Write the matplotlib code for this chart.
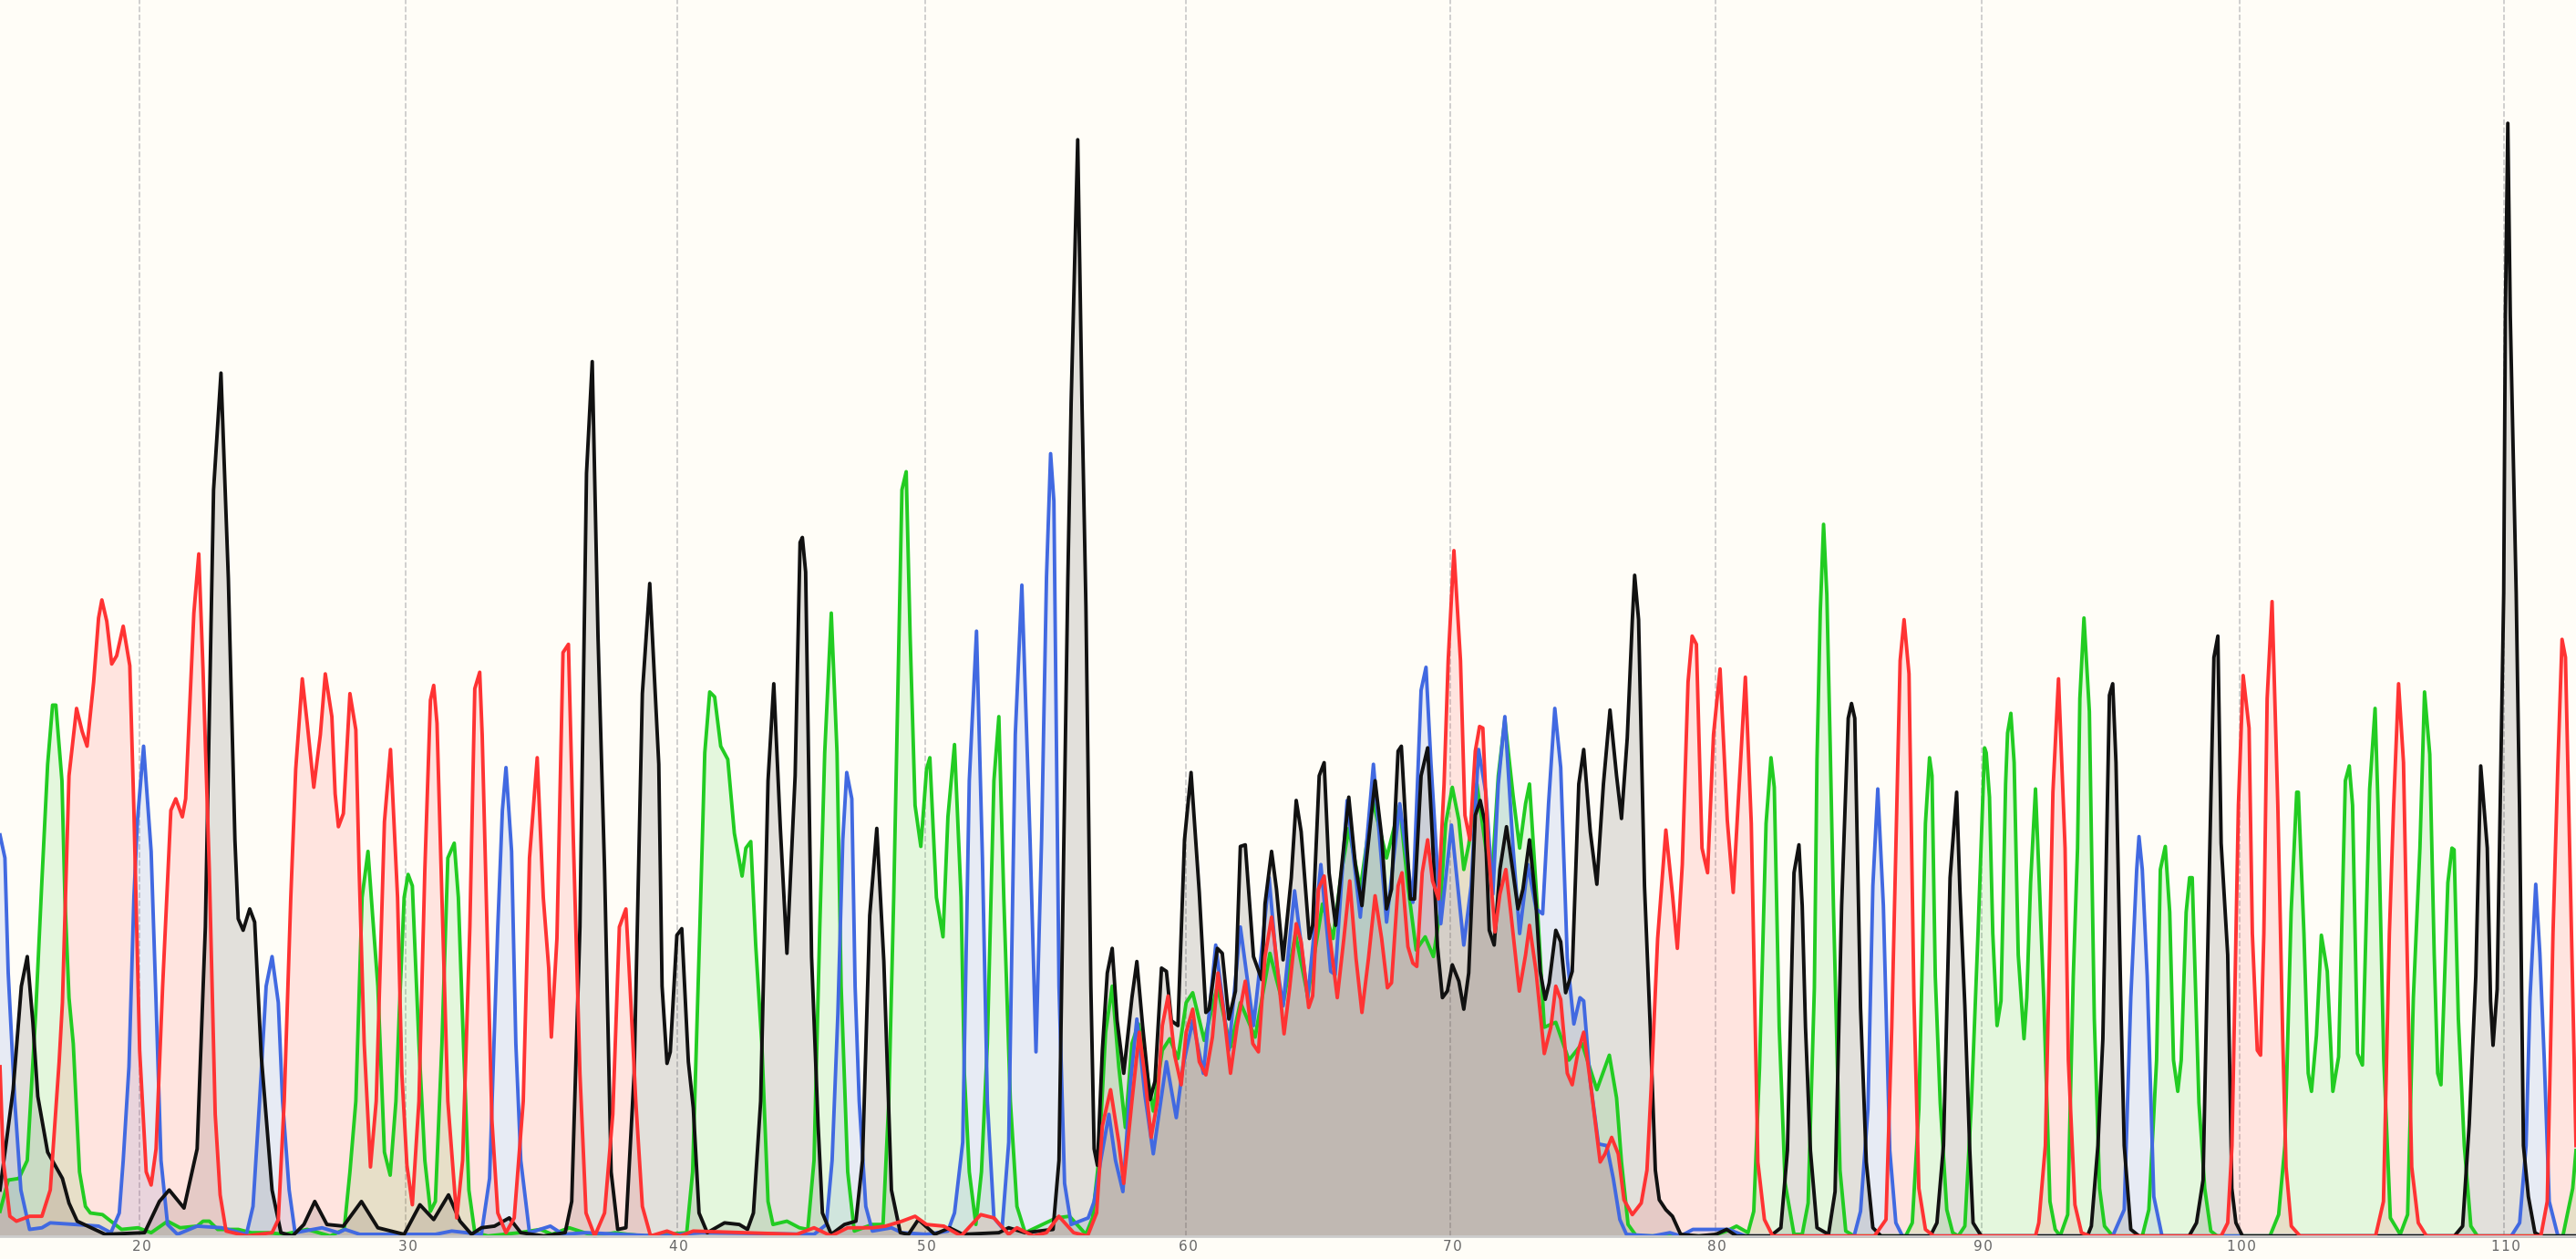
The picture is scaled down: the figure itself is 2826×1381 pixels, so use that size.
import matplotlib
matplotlib.use("Agg")
import matplotlib.pyplot as plt
from matplotlib.transforms import ScaledTranslation

# traces as (position, signal)
black_trace = [(0,28),(8,89),(13,152),(16.6,170),(20,130),(23,85),(29,51),(38,35),(42,20),(47,9),(64,1),(88,2),(97,21),(103,28),(112,17),(120,53),(125,188),(130,454),(134.5,525),(139,400),(143,241),(145,193),(148,186),(152,199),(155,191),(159,110),(165.6,28),(171,2),(178,0),(185,7),(191.6,21),(199,7),(209,6),(220,21),(230,5),(246,1),(255.6,19),(264,10),(273,25),(280,9),(287,1),(293,5),(301,6),(310,11),(317,2),(331,0),(344,2),(348,21),(353,188),(357,464),(360.5,532),(364,365),(368,223),(372,39),(376,4),(381,5),(386,99),(391,330),(395.5,397),(401,287),(403,152),(406,105),(408,112),(412,183),(415,187),(419,106),(422,78),(425.5,14),(430.5,2),(441,8),(450,7),(455,4),(458.6,14),(463,82),(467.5,277),(471,336),(475,248),(479,172),(484,280),(487,422),(488.4,425),(490.4,404),(494,170),(498,67),(500.6,14),(506,1),(514,7),(521,9),(525,46),(529.4,195),(533.7,248),(538,167),(542.6,28),(548,2),(553,1),(559,10),(569,1),(578,5),(586,1),(608,2),(614,5),(624,2),(641,4),(644.6,46),(650,400),(652,507),(656,667),(658.6,507),(661,383),(664,152),(666,53),(668,43),(671,113),(674,160),(677,175),(680,131),(684,99),(689,145),(692,167),(695.5,128),(700,83),(703,94),(707,163),(710,161),(713,131),(717,128),(721,241),(725,282),(730,209),(734,136),(736,138),(741,175),(744,172),(748,132),(752,149),(755,237),(758,238),(763,170),(768,156),(770,202),(774,234),(777,211),(781,168),(786,218),(789,265),(792,246),(797,181),(799,189),(803,280),(806,288),(809,221),(813,189),(817,228),(821,267),(825,226),(829,201),(832,231),(837,277),(841,243),(844,199),(847,211),(851,295),(853,298),(856.5,236),(858.5,205),(861,205),(865,280),(869,297),(872,241),(875,176),(878,145),(881,149),(884,165),(888,155),(891,138),(894,160),(898,256),(901,265),(904,251),(906.5,186),(909.5,177),(913,223),(917,249),(921,221),(924,199),(927,211),(931,241),(935,201),(937.5,161),(940.6,144),(943,154),(947,186),(950,179),(953,148),(957,161),(961,275),(964,296),(968,246),(972,214),(976,275),(980,320),(984,280),(987,254),(990.5,303),(993.6,375),(995,402),(997.4,375),(1001,213),(1004.5,127),(1007.6,40),(1010,22),(1014,16),(1018,12),(1023,1),(1034,0),(1044.5,1),(1051,4),(1057,0),(1077.7,0),(1084,5),(1088,52),(1092,221),(1095,238),(1097,201),(1099,127),(1102,52),(1106,5),(1113,1),(1117,27),(1121,201),(1125,315),(1127,324),(1129,315),(1132.5,139),(1136,45),(1140,5),(1145,0),(1175,0),(1179,8),(1183,55),(1187,218),(1191,270),(1193,210),(1196,140),(1199,52),(1201,8),(1206,0),(1270.6,0),(1273,6),(1277,55),(1280,120),(1284,329),(1286,336),(1288,288),(1291,140),(1293,55),(1297,4),(1302,0),(1332.5,0),(1337,8),(1341,34),(1345,231),(1347.6,352),(1350,365),(1352,239),(1356,171),(1358.5,29),(1361,8),(1365,0),(1494,0),(1499,6),(1503,68),(1507,158),(1510,286),(1514,236),(1516,143),(1517.5,116),(1520,150),(1522.7,314),(1524,391),(1525,560),(1526.5,677),(1528,560),(1531.6,391),(1533.6,262),(1536,55),(1539,24),(1543,2),(1546.6,0),(1568,0)]

red_trace = [(0,103),(2,46),(6,12),(10,9),(18,12),(25.5,12),(30.6,28),(36,106),(38,142),(42,280),(46.6,321),(50,307),(53,298),(57,337),(60,376),(62,387),(65,374),(68,348),(71,353),(75,371),(79,347),(81.5,259),(85,113),(89,39),(92,31),(95,53),(99,152),(104,259),(107,266),(111,255),(113,266),(118,379),(121,415),(123.6,344),(127.4,223),(131,74),(134,25),(137.6,3),(150,0),(165.6,2),(169.4,10),(173,82),(177,206),(180,284),(184,339),(187,312),(191,273),(195,305),(198,342),(202,316),(204,269),(206,249),(209,257),(213,330),(216.6,308),(218.6,223),(221.7,117),(225.5,42),(229,82),(234,252),(237.7,296),(242,206),(244.6,99),(247.7,43),(251,19),(255,82),(258.6,223),(262,326),(264,335),(266,312),(269,206),(272.6,82),(278,11),(281.6,46),(286,188),(289,333),(292,343),(293.5,305),(296,206),(299.4,71),(303,14),(308,2),(313,11),(318.5,82),(322.3,230),(327,291),(330.7,206),(334,163),(335.6,121),(339,181),(342.7,355),(346,360),(349,241),(353,99),(356.7,14),(362,0),(368,14),(373,74),(377,188),(381,199),(383.5,152),(387,82),(391,18),(396,0),(406,3),(414,0),(422,3),(485,1),(495.5,5),(506,0),(516,5),(531,5),(539,6),(549,9),(557,12),(564,7),(574.5,6),(585,0),(597,13),(605,11),(614,1),(619,5),(629,0),(637,2),(644.5,12),(653.5,2),(662,0),(667.5,14),(671,67),(676,89),(681,57),(684,32),(689,82),(693.5,124),(697,96),(700.7,60),(704.5,82),(707.5,128),(711,146),(715,110),(719,92),(722,124),(726,138),(730,106),(734,98),(738,121),(741.4,160),(745,135),(749,99),(753,128),(758,155),(762.6,117),(766,112),(770,170),(774,194),(777,169),(781.6,123),(785,151),(789,190),(792,179),(796.6,139),(799,146),(802.5,211),(806,219),(809,186),(814,145),(818,181),(821.6,216),(825.4,169),(829,136),(833,169),(837,207),(841,181),(844.5,151),(847,154),(851,213),(853.4,221),(857,176),(860,166),(862.4,164),(865.7,221),(869,241),(872,216),(875.6,205),(879,275),(881.5,350),(885,417),(889,350),(891.7,256),(894.7,241),(898,295),(900.6,310),(902.6,309),(905.7,238),(910,185),(913,208),(916.6,223),(919.7,196),(924.8,149),(928.6,171),(931,189),(935,161),(940,111),(944,127),(947,152),(950,144),(954,99),(957,92),(960.5,112),(964,124),(968,94),(974,45),(977,50),(981,60),(985,50),(988.5,22),(993.6,13),(999,20),(1002.5,40),(1005,89),(1009,181),(1014,247),(1018,208),(1021,175),(1024,226),(1027.5,337),(1030,365),(1032.6,360),(1036,236),(1039.4,221),(1043,305),(1047,345),(1051.4,253),(1055,209),(1058,263),(1062.4,340),(1066,251),(1070,45),(1074,10),(1079,0),(1141,0),(1148,10),(1151.5,127),(1156.6,350),(1159,375),(1162,342),(1165,145),(1168,29),(1172,4),(1177,0),(1239,0),(1241,8),(1245,55),(1249.6,270),(1253,339),(1257,236),(1259,107),(1263,19),(1267,2),(1272,0),(1352,0),(1356,8),(1358.6,55),(1362.5,262),(1365.4,341),(1369,309),(1371,184),(1374,113),(1376,110),(1378,184),(1380,327),(1383,386),(1386.5,262),(1389.5,120),(1391.5,42),(1394.7,6),(1400,0),(1446,0),(1450.8,21),(1454.4,184),(1457,262),(1460,336),(1463,288),(1465.5,158),(1468,42),(1472,8),(1477,0),(1546.6,0),(1550.5,21),(1554,184),(1557,288),(1559.5,363),(1561.6,352),(1564.7,210),(1568,55)]

green_trace = [(0,15),(5,34),(11.5,35),(16.6,46),(21.7,135),(25.5,216),(29,287),(32,323),(34,323),(37.7,277),(39.5,206),(42,145),(44.6,117),(48.4,39),(52,18),(55,14),(62.4,13),(67.5,9),(74,4),(84,5),(92,2),(102,9),(109.6,5),(120,6),(123.6,9),(127.4,9),(132.5,4),(145,4),(153,2),(163,2),(173,1),(187,4),(201,0),(209.5,4),(213,39),(216.6,82),(220.4,206),(224,234),(226.8,195),(230,152),(234,51),(237.5,37),(241,82),(243,135),(246,206),(248.4,220),(251,213),(255,117),(258.6,46),(262,15),(265,21),(269,117),(272.6,230),(276.5,239),(279,206),(281.6,131),(285.4,28),(289,2),(297,0),(316,2),(329,4),(336,1),(346.5,5),(362,0),(374.5,2),(382,1),(392.4,0),(418,2),(421.6,39),(426,188),(429,294),(432,331),(435,328),(438.7,298),(443,290),(447,245),(451.7,219),(454,236),(457,240),(460,177),(463.7,117),(467.5,21),(470.5,7),(479,9),(486.6,5),(491.7,4),(495.5,46),(499,188),(502,294),(506,379),(509.5,294),(512,152),(516,39),(520,3),(531,7),(537.5,7),(541,82),(544,206),(549,454),(551.6,465),(554,365),(557,262),(560.5,237),(564,284),(566,291),(570,206),(574,182),(577,255),(581,299),(585,206),(587,99),(590,39),(594,7),(597.4,39),(601,117),(605,277),(608,316),(611,206),(615,82),(619,18),(624,2),(643,11),(651,12),(661,1),(665,11),(668.8,46),(673,124),(677,152),(681,103),(685,66),(689,117),(693,129),(697,106),(702,76),(707.5,113),(712,120),(717,108),(722,142),(726,148),(733,119),(741,152),(749,115),(755,142),(764,121),(773,172),(777,156),(781,141),(788.5,184),(796,146),(805,202),(811.4,181),(816.5,221),(821,248),(828,211),(835.6,265),(844,230),(852,262),(857,213),(862,174),(867.5,182),(872.5,170),(876.4,196),(880,251),(884,273),(888,253),(891,223),(894,238),(899,275),(904.4,236),(908,216),(912,280),(916,314),(921,268),(925,236),(928.6,263),(931,275),(936,196),(940,127),(947,130),(955,107),(963,117),(972,89),(979.6,110),(984,84),(987,45),(991,7),(996,0),(1042,0),(1051,3),(1057,6),(1064,2),(1067.5,15),(1071,102),(1075,251),(1078,291),(1080,273),(1083,127),(1086.6,32),(1092,1),(1097,1),(1100.6,20),(1104.4,151),(1106,290),(1108,380),(1110,433),(1112,390),(1114,300),(1116,201),(1120,40),(1123.5,3),(1128.6,0),(1160,0),(1164,8),(1168,77),(1172,251),(1174.5,291),(1176,280),(1178,158),(1181,81),(1185,16),(1188.6,2),(1192,0),(1196,6),(1200,81),(1204,184),(1208,297),(1209,294),(1211,267),(1213,184),(1215.6,128),(1218,143),(1220.8,275),(1222,306),(1224,318),(1226,288),(1228.5,171),(1232,120),(1233.7,145),(1236,215),(1239,272),(1241,223),(1244,145),(1247.8,21),(1251,4),(1254,0),(1258.6,13),(1262,158),(1264.6,236),(1266,327),(1268.5,376),(1271.8,319),(1274.8,132),(1278,29),(1281,6),(1286,0),(1304,0),(1308,16),(1312.7,107),(1315,223),(1318,237),(1320.7,197),(1323,107),(1325.6,88),(1327.7,107),(1330.7,197),(1332.8,218),(1334.4,218),(1338.5,81),(1342,29),(1345.7,3),(1349.6,0),(1381.7,0),(1387,13),(1390.8,55),(1394.6,197),(1398,270),(1399,270),(1402.4,184),(1405,99),(1407,88),(1410,122),(1413,183),(1416.6,161),(1420,88),(1423.5,109),(1427.6,277),(1430,286),(1432,262),(1435,111),(1438,104),(1442.4,272),(1445.7,321),(1447.5,262),(1451,107),(1455,11),(1461,1),(1465.5,13),(1469,145),(1473,236),(1475.8,331),(1479,293),(1481.7,171),(1483.8,99),(1485.8,92),(1490,215),(1492.5,236),(1493.8,235),(1496.4,132),(1500,55),(1504,6),(1508,0),(1560,0),(1566,29),(1568,52)]

blue_trace = [(0,244),(3,230),(5,160),(9,82),(12.7,28),(18,4),(25.5,5),(30.6,8),(46,7),(60,6),(67.5,2),(72.6,14),(75,46),(78.5,103),(81.5,206),(83.6,252),(87.4,298),(92,234),(95,142),(98,46),(102,7),(108,1),(120,6),(135,5),(150,1),(154,18),(158,82),(162,152),(165.6,170),(169.4,142),(172,82),(176,28),(179.6,2),(196,5),(206,2),(210,4),(219,1),(265,1),(275,3),(293,1),(298,35),(303,188),(305.8,259),(308,285),(311.4,234),(314,117),(317,46),(322.3,2),(335,6),(342.7,1),(357,2),(400,0),(427,2),(495.5,1),(503,7),(506.5,46),(510,135),(513,241),(515.4,282),(518.5,266),(520.5,152),(523,82),(527,18),(531,3),(542.6,5),(549,2),(564,1),(577,3),(581,14),(586,57),(590,277),(594.4,368),(598,230),(601,82),(605,11),(610,5),(614,57),(618,305),(622,396),(627,241),(630.6,112),(634,241),(637,401),(639.5,476),(641.5,447),(644.6,152),(648,32),(652,7),(662.4,11),(666,21),(670,46),(675,74),(679,46),(683.5,27),(688,92),(692,132),(697,85),(702,50),(706,78),(710,106),(716,72),(720,103),(726,131),(732.5,99),(740,177),(748,113),(755,188),(763,128),(768,174),(772.5,218),(777,166),(781,140),(788,210),(796,145),(804,226),(810,161),(812.7,159),(820,265),(828,194),(836,287),(844,191),(852,263),(860,203),(865,332),(868,346),(871,288),(877,190),(883.5,250),(891,177),(895.5,213),(900,296),(904.4,270),(908.7,208),(912,275),(916,316),(921,236),(925,184),(930,226),(935,199),(939,196),(942.6,263),(946.4,321),(950,285),(954,169),(958,129),(961.7,145),(964,143),(968,94),(973,56),(978,55),(982,35),(986,10),(990,1),(1006,0),(1016.5,2),(1023,0),(1030.5,4),(1052,4),(1062.4,0),(1128.6,0),(1132.5,15),(1137,77),(1140,213),(1143,272),(1146.4,201),(1150.3,52),(1154,8),(1158,0),(1286,0),(1293,16),(1297,145),(1300.6,223),(1302,243),(1304,223),(1307,158),(1311,24),(1316,0),(1528.6,0),(1533.7,8),(1537.6,55),(1540,145),(1543.5,214),(1546,172),(1548.7,107),(1551.7,21),(1557,0),(1568,0)]

tick_pos = [85, 247, 412, 563, 722, 883, 1044, 1206, 1363, 1524]
tick_labels = ["2\u200a0", "3\u200a0", "4\u200a0", "5\u200a0", "6\u200a0", "7\u200a0", "8\u200a0", "9\u200a0", "1\u200a0\u200a0", "1\u200a1\u200a0"]

traces = [(green_trace, "#22cc22"), (blue_trace, "#4169e1"), (black_trace, "#111111"), (red_trace, "#ff3333")]

bg = "#fffdf7"
fig = plt.figure(figsize=(28.26, 13.81), dpi=100, facecolor=bg)
ax = fig.add_axes([0, 14 / 766, 1, 752 / 766], facecolor=bg)

for trace, col in traces:
    xs = [p[0] for p in trace]
    ys = [p[1] for p in trace]
    ax.fill_between(xs, ys, 0, color=col, alpha=0.12, lw=0)
for trace, col in traces:
    xs = [p[0] for p in trace]
    ys = [p[1] for p in trace]
    ax.plot(xs, ys, color=col, lw=2.8, solid_joinstyle="round", clip_on=False)

ax.set_xlim(0, 1568)
ax.set_ylim(0, 752)
ax.set_yticks([])
ax.set_xticks(tick_pos)
ax.set_xticklabels(tick_labels, fontsize=11, color="#666666", fontfamily="DejaVu Sans")
ax.tick_params(axis="x", length=0, pad=3)
for lab in ax.get_xticklabels():
    lab.set_transform(lab.get_transform() + ScaledTranslation(2 / 100, 0, fig.dpi_scale_trans))
ax.grid(axis="x", color="#c8c8c8", ls="--", lw=1.2)
ax.set_axisbelow(True)
for s in ["top", "left", "right"]:
    ax.spines[s].set_visible(False)
ax.spines["bottom"].set_color("#cccccc")
ax.spines["bottom"].set_linewidth(2)

fig.savefig("out.png", dpi=100, facecolor=bg)
